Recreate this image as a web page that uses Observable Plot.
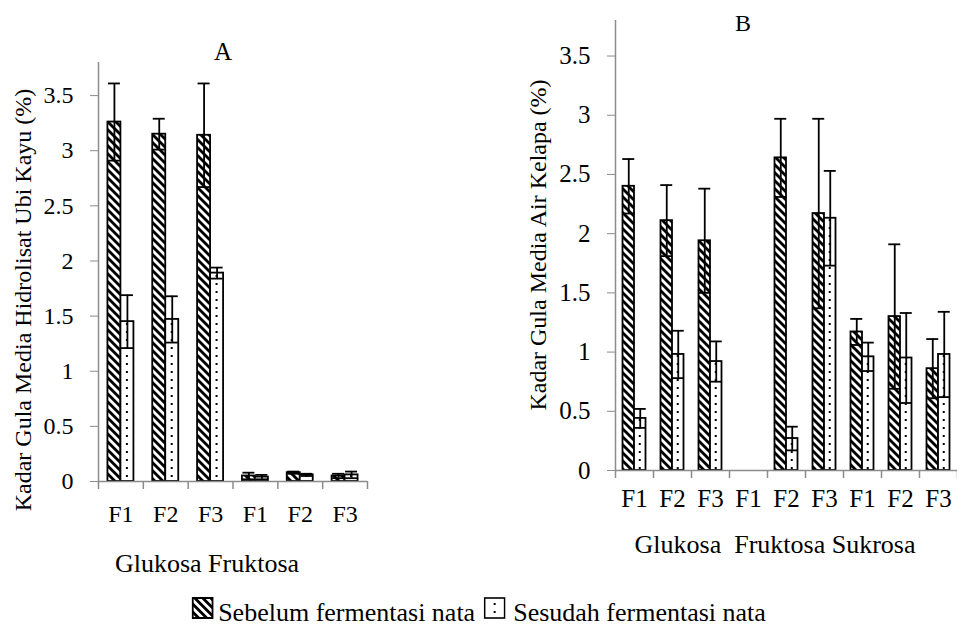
<!DOCTYPE html>
<html><head><meta charset="utf-8">
<script src="https://cdn.jsdelivr.net/npm/d3@7"></script>
<script src="https://cdn.jsdelivr.net/npm/@observablehq/plot@0.6"></script>
<style>
html,body{margin:0;padding:0;background:#fff;}
#page{position:relative;width:957px;height:630px;overflow:hidden;font-family:"Liberation Serif","Times New Roman",serif;color:#000;}
.lbl{position:absolute;white-space:pre;line-height:1;}
.panel{position:absolute;top:0;}
</style></head><body><div id="page"></div>
<script>
// ---- data ----
const formulas = ["F1", "F2", "F3"];
const yTicks = [0, 0.5, 1, 1.5, 2, 2.5, 3, 3.5];

// Panel A: media hidrolisat ubi kayu
const sugarsA = ["Glukosa", "Fruktosa"];
const sebelumA    = [3.26, 3.15, 3.14, 0.05, 0.08, 0.05];
const sebelumErrA = [0.35, 0.14, 0.47, 0.03, 0.01, 0.02];
const sesudahA    = [1.45, 1.47, 1.89, 0.04, 0.06, 0.06];
const sesudahErrA = [0.24, 0.21, 0.05, 0.02, 0.01, 0.03];

// Panel B: media air kelapa
const sugarsB = ["Glukosa", "Fruktosa", "Sukrosa"];
const sebelumB    = [2.40, 2.11, 1.94, null, 2.64, 2.17, 1.17, 1.30, 0.86];
const sebelumErrB = [0.23, 0.30, 0.44, null, 0.33, 0.80, 0.11, 0.61, 0.25];
const sesudahB    = [0.44, 0.98, 0.92, null, 0.27, 2.13, 0.96, 0.95, 0.98];
const sesudahErrB = [0.08, 0.20, 0.17, null, 0.10, 0.40, 0.12, 0.38, 0.36];

const legendItems = ["Sebelum fermentasi nata", "Sesudah fermentasi nata"];

const FONT = '"Liberation Serif","Times New Roman",serif';
const GRAY = "#8c8c8c";

function addPatterns(svg, id, marginLeft, W, barW) {
  const defs = d3.select(svg).insert("defs", ":first-child");
  const p = 5.66;
  const st = defs.append("pattern").attr("id", "stripe-" + id)
    .attr("patternUnits", "userSpaceOnUse").attr("width", p).attr("height", p)
    .attr("patternTransform", "rotate(-45)");
  st.append("rect").attr("width", p).attr("height", p).attr("fill", "white");
  st.append("rect").attr("width", p / 2).attr("height", p).attr("fill", "black");
  const dp = defs.append("pattern").attr("id", "dots-" + id)
    .attr("patternUnits", "userSpaceOnUse").attr("x", marginLeft).attr("y", 0)
    .attr("width", W).attr("height", 8);
  dp.append("rect").attr("width", W).attr("height", 8).attr("fill", "white");
  dp.append("rect").attr("x", W / 2 + barW / 2 - 1).attr("y", 3).attr("width", 2).attr("height", 2).attr("fill", "black");
}

function panel(cfg) {
  const {id, sugars, seb, sebErr, ses, sesErr, width, height, marginLeft, marginRight, marginTop, marginBottom, fontSize, barW, tickPadX} = cfg;
  const rows = [];
  sugars.forEach((s, i) => formulas.forEach((f, j) => {
    const k = i * 3 + j;
    rows.push({key: s + " " + f, seb: seb[k], sebErr: sebErr[k], ses: ses[k], sesErr: sesErr[k]});
  }));
  const keys = rows.map(d => d.key);
  const W = (width - marginLeft - marginRight) / keys.length;
  const half = W / 2;
  const sebRows = rows.filter(d => d.seb != null);
  const sesRows = rows.filter(d => d.ses != null);
  const err = (rs, v, e, off) => [
    Plot.ruleX(rs, {x: "key", y1: d => d[v] - d[e], y2: d => d[v] + d[e], dx: off, stroke: "black", strokeWidth: 1.8}),
    Plot.tickY(rs, {x: "key", y: d => d[v] + d[e], dx: off, insetLeft: half - 6, insetRight: half - 6, stroke: "black", strokeWidth: 1.8}),
    Plot.tickY(rs, {x: "key", y: d => d[v] - d[e], dx: off, insetLeft: half - 6, insetRight: half - 6, stroke: "black", strokeWidth: 1.8})
  ];
  const svg = Plot.plot({
    width, height, marginLeft, marginRight, marginTop, marginBottom,
    style: {fontFamily: FONT, fontSize: fontSize + "px", color: "black", background: "transparent", overflow: "visible"},
    x: {type: "band", domain: keys, padding: 0, round: false, axis: null},
    y: {domain: [0, 3.8], axis: null},
    marks: [
      Plot.ruleX([keys[0]], {x: d => d, dx: -half, stroke: GRAY, strokeWidth: 1.5}),
      Plot.ruleX(keys, {x: d => d, y1: 0, y2: 0, dx: -half, insetBottom: -8, stroke: GRAY, strokeWidth: 1.5}),
      Plot.ruleX([keys[keys.length - 1]], {x: d => d, y1: 0, y2: 0, dx: half, insetBottom: -8, stroke: GRAY, strokeWidth: 1.5}),
      Plot.axisY({ticks: yTicks, tickSize: 8, tickPadding: 17, tickFormat: d => String(d), stroke: GRAY, fill: "black", label: null}),
      Plot.axisX({tickSize: 0, tickPadding: tickPadX, tickFormat: k => k.split(" ")[1], fill: "black", label: null}),
      Plot.barY(sebRows, {x: "key", y: "seb", fill: "url(#stripe-" + id + ")", stroke: "black", strokeWidth: 1.8, insetLeft: half - barW, insetRight: half}),
      Plot.barY(sesRows, {x: "key", y: "ses", fill: "url(#dots-" + id + ")", stroke: "black", strokeWidth: 1.8, insetLeft: half, insetRight: half - barW}),
      ...err(sebRows, "seb", "sebErr", -barW / 2),
      ...err(sesRows, "ses", "sesErr", barW / 2),
      Plot.ruleY([0], {stroke: GRAY, strokeWidth: 1.5})
    ]
  });
  addPatterns(svg, id, marginLeft, W, barW);
  return svg;
}

const page = document.getElementById("page");

const svgA = panel({id: "A", sugars: sugarsA, seb: sebelumA, sebErr: sebelumErrA, ses: sesudahA, sesErr: sesudahErrA,
  width: 400, height: 600, marginLeft: 98, marginRight: 33, marginTop: 62, marginBottom: 119, fontSize: 24, barW: 13, tickPadX: 23});
const wrapA = document.createElement("div"); wrapA.className = "panel"; wrapA.style.left = "0px"; wrapA.appendChild(svgA); page.appendChild(wrapA);

const svgB = panel({id: "B", sugars: sugarsB, seb: sebelumB, sebErr: sebelumErrB, ses: sesudahB, sesErr: sesudahErrB,
  width: 477, height: 600, marginLeft: 135, marginRight: 0, marginTop: 20, marginBottom: 130, fontSize: 25, barW: 11.5, tickPadX: 19});
const wrapB = document.createElement("div"); wrapB.className = "panel"; wrapB.style.left = "480px"; wrapB.appendChild(svgB); page.appendChild(wrapB);

function label(text, x, top, size, opts = {}) {
  const d = document.createElement("div");
  d.className = "lbl";
  d.textContent = text;
  d.style.fontSize = size + "px";
  d.style.left = x + "px";
  d.style.top = top + "px";
  d.style.transform = opts.rotate ? "translate(-50%,-50%) rotate(-90deg)" : "translateX(-50%)";
  page.appendChild(d);
  return d;
}
label("A", 223, 39, 25);
label("B", 743, 11, 24);
label("Glukosa Fruktosa", 207, 551, 26);
label("Glukosa  Fruktosa Sukrosa", 775, 532, 26);
label("Kadar Gula Media Hidrolisat Ubi Kayu (%)", 23, 300, 24, {rotate: true});
label("Kadar Gula Media Air Kelapa (%)", 538, 245, 24, {rotate: true});

// legend
const lg = document.createElement("div");
lg.style.cssText = "position:absolute;left:50%;top:602px;transform:translateX(-50%);display:flex;align-items:center;font-size:26px;line-height:22px;white-space:nowrap;";
lg.innerHTML =
  '<svg width="22" height="22" style="transform:translateY(-5px);margin-right:5px">' +
  '<defs><pattern id="stripe-leg" patternUnits="userSpaceOnUse" width="5.66" height="5.66" patternTransform="rotate(-45)">' +
  '<rect width="5.66" height="5.66" fill="white"/><rect width="2.83" height="5.66" fill="black"/></pattern></defs>' +
  '<rect x="1" y="1" width="20" height="20" fill="url(#stripe-leg)" stroke="black" stroke-width="2"/></svg>' +
  '<span>' + legendItems[0] + '</span>' +
  '<svg width="22" height="22" style="transform:translateY(-5px);margin-left:8px;margin-right:8px">' +
  '<rect x="1" y="1" width="20" height="20" fill="white" stroke="black" stroke-width="1.6"/>' +
  '<rect x="10" y="6" width="2" height="2" fill="black"/><rect x="10" y="14" width="2" height="2" fill="black"/></svg>' +
  '<span>' + legendItems[1] + '</span>';
page.appendChild(lg);
</script></body></html>
